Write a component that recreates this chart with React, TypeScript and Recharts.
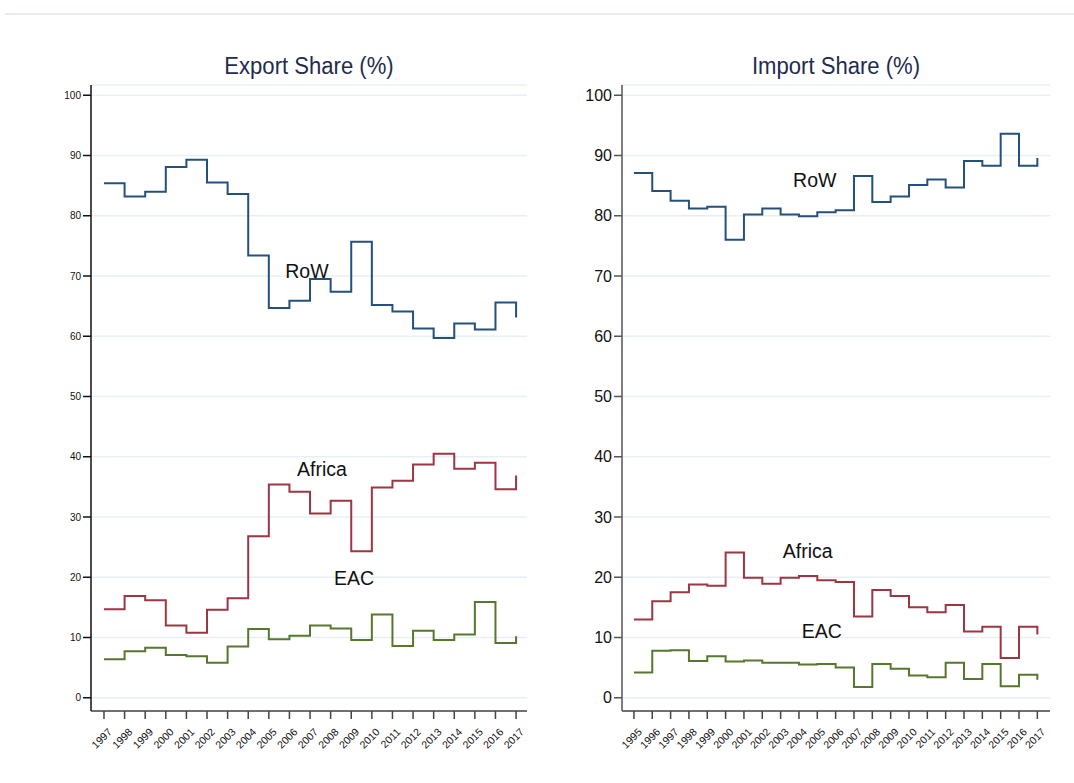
import React from "react";
import {
  LineChart,
  Line,
  XAxis,
  YAxis,
  CartesianGrid,
  ReferenceDot,
} from "recharts";

// Export shares, 1997-2017
const exportYears = [
  1997, 1998, 1999, 2000, 2001, 2002, 2003, 2004, 2005, 2006, 2007, 2008,
  2009, 2010, 2011, 2012, 2013, 2014, 2015, 2016, 2017,
];
const exportRoW = [
  85.4, 83.2, 84.0, 88.1, 89.3, 85.5, 83.6, 73.4, 64.7, 65.9, 69.5, 67.4,
  75.7, 65.2, 64.1, 61.3, 59.7, 62.1, 61.1, 65.6, 63.1,
];
const exportAfrica = [
  14.7, 16.9, 16.2, 12.0, 10.8, 14.6, 16.5, 26.8, 35.4, 34.2, 30.6, 32.7,
  24.3, 34.9, 36.0, 38.7, 40.5, 38.0, 39.0, 34.6, 36.9,
];
const exportEAC = [
  6.4, 7.7, 8.3, 7.1, 6.9, 5.8, 8.5, 11.4, 9.7, 10.3, 12.0, 11.5, 9.6, 13.8,
  8.6, 11.1, 9.6, 10.5, 15.9, 9.1, 10.2,
];

// Import shares, 1995-2017
const importYears = [
  1995, 1996, 1997, 1998, 1999, 2000, 2001, 2002, 2003, 2004, 2005, 2006,
  2007, 2008, 2009, 2010, 2011, 2012, 2013, 2014, 2015, 2016, 2017,
];
const importRoW = [
  87.1, 84.1, 82.5, 81.2, 81.5, 76.0, 80.2, 81.2, 80.2, 79.9, 80.6, 80.9,
  86.6, 82.3, 83.2, 85.1, 86.0, 84.7, 89.1, 88.3, 93.6, 88.3, 89.6,
];
const importAfrica = [
  13.0, 16.0, 17.5, 18.8, 18.6, 24.1, 19.9, 18.9, 19.9, 20.2, 19.5, 19.2,
  13.5, 17.9, 16.9, 15.0, 14.2, 15.4, 11.0, 11.8, 6.6, 11.8, 10.5,
];
const importEAC = [
  4.2, 7.8, 7.9, 6.1, 6.9, 6.0, 6.2, 5.8, 5.8, 5.5, 5.6, 5.0, 1.8, 5.6, 4.8,
  3.7, 3.4, 5.8, 3.1, 5.6, 1.9, 3.8, 3.0,
];

const yTicks = [0, 10, 20, 30, 40, 50, 60, 70, 80, 90, 100];

const ROW_COLOR = "#24507d";
const AFRICA_COLOR = "#9c3643";
const EAC_COLOR = "#56782d";
const GRID = "#e8eff2";
const FONT = "'Liberation Sans', Arial, sans-serif";

function buildRows(years: number[], row: number[], africa: number[], eac: number[]) {
  return years.map((year, i) => ({
    year,
    RoW: row[i],
    Africa: africa[i],
    EAC: eac[i],
  }));
}

const exportData = buildRows(exportYears, exportRoW, exportAfrica, exportEAC);
const importData = buildRows(importYears, importRoW, importAfrica, importEAC);

const YearTick = (props: any) => {
  const { x, y, payload } = props;
  return (
    <text
      x={x + 3}
      y={y + 6}
      transform={`rotate(-45 ${x + 3} ${y + 6})`}
      textAnchor="end"
      dominantBaseline="hanging"
      fontSize={10.5}
      fontFamily={FONT}
      fill="#111"
    >
      {payload.value}
    </text>
  );
};

interface PanelProps {
  data: any[];
  years: number[];
  domainX: [number, number];
  width: number;
  marginLeft: number;
  marginRight: number;
  yFont: number;
  yAxisColor: string;
  labels: { name: string; x: number; y: number }[];
}

function Panel({ data, years, domainX, width, marginLeft, marginRight, yFont, yAxisColor, labels }: PanelProps) {
  return (
    <LineChart
      width={width}
      height={783}
      data={data}
      margin={{ top: 85, right: marginRight, left: marginLeft, bottom: 12 }}
    >
      <CartesianGrid horizontal vertical={false} stroke={GRID} strokeWidth={1.5} />
      <XAxis
        dataKey="year"
        type="number"
        domain={domainX}
        ticks={years}
        interval={0}
        allowDataOverflow
        height={60}
        tickSize={8}
        tick={<YearTick />}
        stroke="#444"
        strokeWidth={1.5}
      />
      <YAxis
        type="number"
        domain={[-2.2, 101.7]}
        ticks={yTicks}
        allowDataOverflow
        width={40}
        tickSize={8}
        tick={{ fontSize: yFont, fill: "#111", fontFamily: FONT }}
        stroke={yAxisColor}
        strokeWidth={1.5}
      />
      <Line type="stepAfter" dataKey="RoW" stroke={ROW_COLOR} strokeWidth={2} dot={false} isAnimationActive={false} />
      <Line type="stepAfter" dataKey="Africa" stroke={AFRICA_COLOR} strokeWidth={2} dot={false} isAnimationActive={false} />
      <Line type="stepAfter" dataKey="EAC" stroke={EAC_COLOR} strokeWidth={2} dot={false} isAnimationActive={false} />
      {labels.map((l) => (
        <ReferenceDot
          key={l.name}
          x={l.x}
          y={l.y}
          r={0}
          fill="none"
          stroke="none"
          label={{ value: l.name, position: "center", fontSize: 19.5, fill: "#111", fontFamily: FONT }}
        />
      ))}
    </LineChart>
  );
}

const titleStyle: React.CSSProperties = {
  position: "absolute",
  top: 53,
  fontFamily: "'Liberation Sans Narrow', 'Liberation Sans', Arial, sans-serif",
  fontSize: 23,
  color: "#1f2c4f",
  textAlign: "center",
  whiteSpace: "nowrap",
  transform: "translateX(-50%) scaleX(0.96)",
};

export default function App() {
  return (
    <div style={{ position: "absolute", left: 0, top: 0, width: 1074, height: 783, background: "#fff", overflow: "hidden" }}>
      <div style={{ position: "absolute", left: 5, top: 13, width: 1069, height: 1.5, background: "#e6edef" }} />
      <div style={{ ...titleStyle, left: 309 }}>Export Share (%)</div>
      <div style={{ ...titleStyle, left: 836 }}>Import Share (%)</div>
      <div style={{ position: "absolute", left: 0, top: 0 }}>
        <Panel
          data={exportData}
          years={exportYears}
          domainX={[1996.37, 2017.53]}
          width={560}
          marginLeft={51}
          marginRight={33}
          yFont={10}
          yAxisColor="#111"
          labels={[
            { name: "RoW", x: 2006.85, y: 70.8 },
            { name: "Africa", x: 2007.58, y: 38.0 },
            { name: "EAC", x: 2009.14, y: 19.9 },
          ]}
        />
      </div>
      <div style={{ position: "absolute", left: 540, top: 0 }}>
        <Panel
          data={importData}
          years={importYears}
          domainX={[1994.35, 2017.69]}
          width={534}
          marginLeft={42}
          marginRight={24}
          yFont={16}
          yAxisColor="#555"
          labels={[
            { name: "RoW", x: 2004.86, y: 85.95 },
            { name: "Africa", x: 2004.48, y: 24.3 },
            { name: "EAC", x: 2005.24, y: 11.1 },
          ]}
        />
      </div>
    </div>
  );
}
